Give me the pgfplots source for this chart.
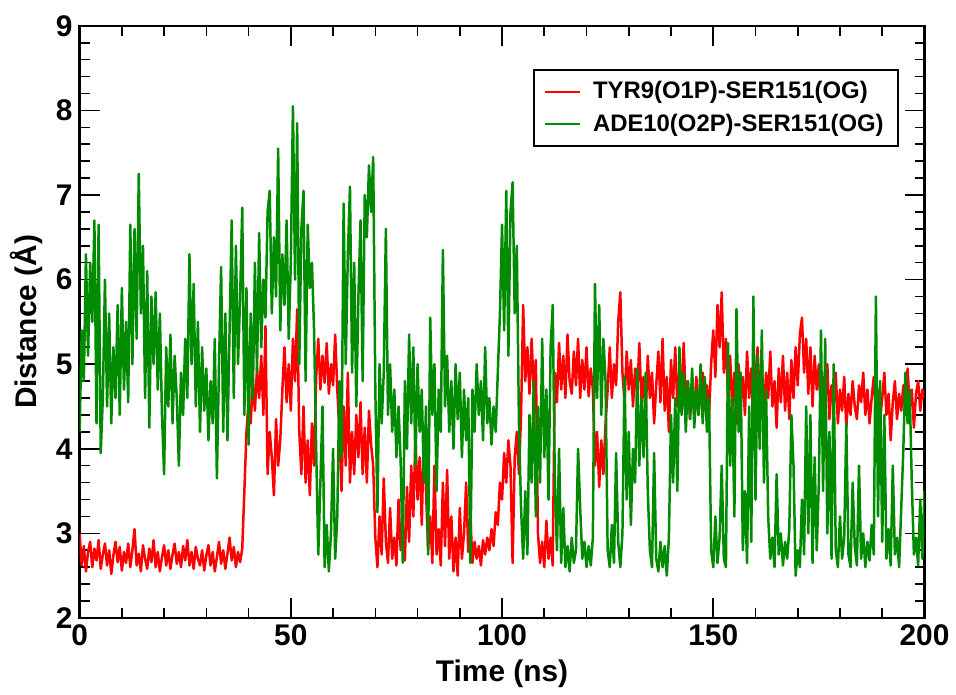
\documentclass[border=0pt]{standalone}
\usepackage{fontspec}
\setmainfont{Liberation Sans}
\usepackage{pgfplots}
\usepackage{pgfplotstable}
\pgfplotsset{compat=1.18}
\definecolor{gred}{RGB}{255,0,0}
\definecolor{ggreen}{RGB}{0,139,0}

\pgfplotstableread{
t r g
0 3.00 4.20
0.5 2.62 5.40
1 2.85 4.80
1.5 2.55 6.30
2 2.78 5.10
2.5 2.90 6.20
3 2.60 5.50
3.5 2.82 6.70
4 2.68 4.30
4.5 2.92 6.65
5 2.58 3.95
5.5 2.75 4.60
6 2.88 6.00
6.5 2.62 4.50
7 2.80 5.60
7.5 2.52 4.30
8 2.74 5.20
8.5 2.90 4.60
9 2.66 5.70
9.5 2.84 4.40
10 2.56 5.90
10.5 2.78 4.70
11 2.65 5.50
11.5 2.88 4.55
12 2.60 6.65
12.5 2.80 5.00
13 3.05 6.60
13.5 2.62 5.30
14 2.76 7.25
14.5 2.55 5.60
15 2.86 6.40
15.5 2.70 4.60
16 2.58 6.10
16.5 2.82 4.25
17 2.66 5.80
17.5 2.92 5.00
18 2.60 5.85
18.5 2.78 4.70
19 2.55 5.60
19.5 2.72 4.40
20 2.86 3.70
20.5 2.62 5.20
21 2.80 4.50
21.5 2.58 5.35
22 2.75 4.30
22.5 2.88 5.10
23 2.64 4.60
23.5 2.78 3.80
24 2.60 4.90
24.5 2.85 4.40
25 2.68 5.30
25.5 2.92 4.60
26 2.62 6.30
26.5 2.78 5.00
27 2.58 5.95
27.5 2.84 4.50
28 2.70 5.50
28.5 2.62 4.20
29 2.80 5.20
29.5 2.56 4.45
30 2.74 4.95
30.5 2.86 4.10
31 2.62 4.80
31.5 2.78 4.30
32 2.55 5.30
32.5 2.72 3.65
33 2.90 5.00
33.5 2.64 6.15
34 2.80 4.20
34.5 2.58 5.60
35 2.76 4.10
35.5 2.95 5.40
36 2.68 6.70
36.5 2.84 4.60
37 2.60 6.40
37.5 2.78 5.00
38 2.66 5.80
38.5 2.82 6.85
39 3.50 4.40
39.5 4.20 5.90
40 4.55 4.05
40.5 4.30 5.60
41 4.80 4.60
41.5 4.45 6.20
42 4.95 4.90
42.5 4.60 6.55
43 5.10 5.20
43.5 4.40 6.00
44 5.45 5.55
44.5 3.70 6.80
45 4.20 7.05
45.5 3.90 5.60
46 3.45 6.50
46.5 4.35 5.80
47 3.80 7.55
47.5 4.10 5.40
48 4.70 6.30
48.5 5.20 5.70
49 4.55 6.70
49.5 5.00 5.30
50 4.45 6.20
50.5 5.30 8.05
51 4.80 6.00
51.5 5.65 7.85
52 4.20 5.00
52.5 3.70 6.60
53 4.50 7.05
53.5 3.60 4.80
54 4.10 6.65
54.5 3.45 5.90
55 4.30 6.20
55.5 3.80 5.40
56 4.85 4.00
56.5 5.30 2.75
57 4.70 3.60
57.5 5.10 4.50
58 4.78 2.60
58.5 5.25 3.10
59 4.65 2.55
59.5 5.00 3.00
60 4.75 4.00
60.5 5.35 2.70
61 4.70 3.20
61.5 4.20 4.80
62 3.50 3.90
62.5 4.50 6.90
63 3.80 5.00
63.5 4.90 6.30
64 3.60 7.10
64.5 4.20 4.90
65 3.70 6.20
65.5 4.40 4.50
66 3.90 5.80
66.5 4.55 6.70
67 3.70 4.80
67.5 4.25 7.00
68 3.60 6.50
68.5 4.45 7.35
69 4.05 6.80
69.5 3.80 7.45
70 2.95 4.70
70.5 2.60 3.25
71 3.20 5.00
71.5 2.75 4.30
72 3.65 4.90
72.5 2.90 6.60
73 2.65 4.40
73.5 3.30 5.00
74 2.70 4.20
74.5 2.95 4.70
75 2.62 3.90
75.5 3.40 4.50
76 2.80 3.85
76.5 3.10 2.65
77 2.68 4.80
77.5 3.55 4.00
78 2.90 5.35
78.5 3.80 4.30
79 3.20 5.20
79.5 4.15 3.80
80 3.40 5.00
80.5 3.90 4.20
81 3.10 4.70
81.5 4.20 3.60
82 3.50 4.50
82.5 2.80 2.75
83 3.20 5.55
83.5 2.65 4.40
84 3.80 5.00
84.5 2.75 3.50
85 3.05 4.70
85.5 2.62 4.20
86 3.60 6.35
86.5 2.85 4.50
87 3.75 5.10
87.5 2.70 4.20
88 3.20 4.80
88.5 2.55 4.00
89 2.95 5.00
89.5 2.50 4.35
90 3.30 4.90
90.5 2.70 3.90
91 3.00 4.70
91.5 3.60 4.10
92 2.78 4.60
92.5 3.20 2.65
93 2.65 4.70
93.5 2.90 4.20
94 2.70 5.00
94.5 2.85 4.40
95 2.62 4.80
95.5 2.92 4.10
96 2.75 5.20
96.5 2.95 4.30
97 2.80 4.60
97.5 3.05 4.05
98 2.85 4.50
98.5 3.25 4.20
99 3.10 4.90
99.5 3.60 5.60
100 3.40 6.65
100.5 3.95 5.40
101 3.60 7.05
101.5 4.10 5.10
102 3.80 6.80
102.5 2.65 7.15
103 3.90 5.60
103.5 4.20 6.40
104 3.70 4.30
104.5 4.40 3.30
105 5.70 2.70
105.5 4.80 3.50
106 5.20 2.75
106.5 4.65 4.40
107 5.30 3.60
107.5 4.70 4.80
108 5.05 3.20
108.5 3.00 4.50
109 2.65 3.60
109.5 2.90 5.30
110 2.60 3.90
110.5 3.15 4.70
111 2.70 3.40
111.5 2.95 5.20
112 2.62 5.70
112.5 4.90 3.60
113 4.55 2.80
113.5 5.25 4.00
114 4.70 2.65
114.5 5.10 3.30
115 4.60 2.60
115.5 5.35 2.85
116 4.80 2.55
116.5 4.65 2.95
117 5.15 2.65
117.5 4.75 2.80
118 5.30 4.00
118.5 4.60 3.30
119 5.05 2.70
119.5 4.70 2.90
120 5.20 2.60
120.5 4.62 2.85
121 4.95 2.62
121.5 4.70 2.95
122 3.80 5.95
122.5 4.20 4.60
123 3.55 5.70
123.5 4.10 4.40
124 3.70 5.30
124.5 4.30 4.80
125 4.70 2.80
125.5 5.20 2.60
126 4.60 3.10
126.5 5.00 2.65
127 4.75 3.95
127.5 5.50 2.90
128 5.85 2.60
128.5 4.90 3.00
129 4.55 4.85
129.5 5.15 3.40
130 4.70 4.20
130.5 5.05 3.10
131 4.50 4.00
131.5 4.95 3.60
132 4.65 4.95
132.5 5.25 3.80
133 4.55 4.60
133.5 4.85 3.90
134 4.40 4.90
134.5 5.10 3.50
135 4.60 2.80
135.5 4.90 2.60
136 4.30 3.95
136.5 4.75 2.70
137 5.15 2.55
137.5 4.55 2.90
138 5.30 2.60
138.5 4.45 2.85
139 4.85 2.50
139.5 4.20 2.95
140 5.05 4.40
140.5 4.60 3.60
141 5.20 4.60
141.5 4.50 3.50
142 4.95 5.20
142.5 4.70 4.40
143 5.25 4.90
143.5 4.55 4.20
144 4.80 4.80
144.5 4.35 4.35
145 4.70 4.95
145.5 4.45 4.25
146 4.85 4.70
146.5 4.40 4.40
147 4.65 5.00
147.5 4.90 4.30
148 4.50 4.85
148.5 4.75 4.20
149 4.40 4.60
149.5 5.00 2.80
150 5.40 2.60
150.5 4.85 3.20
151 5.70 2.65
151.5 5.20 2.95
152 5.85 3.80
152.5 4.90 2.70
153 5.30 2.60
153.5 4.60 5.25
154 5.10 3.80
154.5 4.45 4.60
155 4.90 3.20
155.5 4.30 5.65
156 5.00 4.20
156.5 4.55 4.90
157 4.85 2.80
157.5 4.40 3.50
158 5.15 2.65
158.5 4.60 4.50
159 4.95 2.90
159.5 4.30 5.80
160 4.85 3.40
160.5 5.20 5.10
161 4.55 4.00
161.5 5.05 5.40
162 4.40 3.60
162.5 4.90 4.70
163 4.60 3.20
163.5 5.15 2.70
164 4.50 2.95
164.5 4.80 2.60
165 4.25 3.70
165.5 4.95 2.75
166 4.55 3.00
166.5 5.10 2.62
167 4.45 2.90
167.5 4.90 2.70
168 4.35 3.05
168.5 5.05 4.40
169 4.60 3.80
169.5 5.20 2.50
170 4.75 2.80
170.5 5.35 2.60
171 5.55 3.40
171.5 4.90 2.75
172 5.30 4.50
172.5 4.65 3.00
173 5.20 4.40
173.5 4.50 2.65
174 5.10 3.90
174.5 4.70 2.80
175 5.00 3.60
175.5 4.40 5.40
176 4.85 3.50
176.5 4.55 5.30
177 5.00 3.00
177.5 4.35 4.20
178 4.75 2.70
178.5 4.50 5.00
179 4.90 2.80
179.5 4.30 2.60
180 4.70 3.20
180.5 4.45 2.70
181 4.85 2.95
181.5 4.25 4.30
182 4.65 2.75
182.5 4.40 2.60
183 4.80 3.60
183.5 4.50 2.85
184 4.35 2.62
184.5 4.75 3.80
185 4.55 2.70
185.5 4.90 3.00
186 4.40 2.60
186.5 4.70 2.90
187 4.30 2.68
187.5 4.60 3.10
188 4.85 2.75
188.5 4.45 5.80
189 4.70 3.20
189.5 4.35 4.80
190 4.60 2.90
190.5 4.90 4.40
191 4.40 2.70
191.5 4.65 3.05
192 4.10 2.62
192.5 4.55 3.80
193 4.80 2.75
193.5 4.35 2.95
194 4.65 2.60
194.5 4.45 3.30
195 4.75 4.00
195.5 4.40 4.90
196 4.95 4.30
196.5 4.50 4.70
197 4.70 3.60
197.5 4.25 2.75
198 4.65 2.95
198.5 4.80 2.62
199 4.45 3.40
199.5 4.70 2.70
200 4.60 3.50
}\data

\begin{document}
\begin{tikzpicture}
\begin{axis}[
  scale only axis, width=424.5pt, height=297.5pt,
  xmin=0, xmax=200, ymin=2, ymax=9,
  xtick={0,50,100,150,200}, minor x tick num=4,
  ytick={2,3,4,5,6,7,8,9}, minor y tick num=4,
  tick align=inside,
  major tick length=10pt, minor tick length=5pt,
  every tick/.style={black, line width=0.8pt},
  axis line style={line width=1.3pt},
  /pgf/number format/assume math mode=true,
  tick label style={font=\bfseries\fontsize{15}{15}\selectfont},
  xlabel={Time (ns)}, ylabel={Distance (Å)},
  label style={font=\bfseries\fontsize{15}{18}\selectfont},
  legend style={at={(1,1)}, anchor=north east, xshift=-13pt, yshift=-21.5pt,
    draw=black, line width=1pt, font=\bfseries\fontsize{12}{13.5}\selectfont,
    inner xsep=5pt, inner ysep=4pt, row sep=2pt, cells={anchor=west},
    /tikz/every odd column/.append style={column sep=4pt}},
  legend image code/.code={\draw[#1, line width=1pt] (0pt,0pt) -- (17.5pt,0pt);},
  legend cell align=left,
]
\addplot[gred, line width=1.25pt, line join=round, mark=none] table[x=t, y=r] {\data};
\addlegendentry{TYR9(O1P)-SER151(OG)}
\addplot[ggreen, line width=1.25pt, line join=round, mark=none] table[x=t, y=g] {\data};
\addlegendentry{ADE10(O2P)-SER151(OG)}
\end{axis}
\path (current axis.south west) ++(-40pt,-35pt) rectangle ([xshift=13.5pt,yshift=13pt]current axis.north east);
\end{tikzpicture}
\end{document}
